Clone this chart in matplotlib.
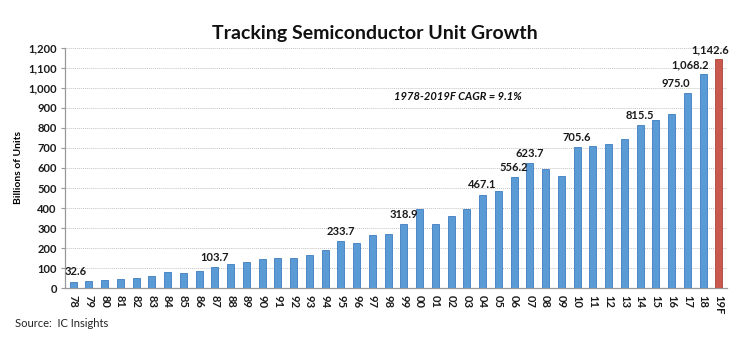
import matplotlib
matplotlib.use("Agg")
import matplotlib.pyplot as plt

plt.rcParams["font.family"] = ["Lato", "DejaVu Sans"]

# data (billions of units)
years = ["78", "79", "80", "81", "82", "83", "84", "85", "86", "87",
         "88", "89", "90", "91", "92", "93", "94", "95", "96", "97",
         "98", "99", "00", "01", "02", "03", "04", "05", "06", "07",
         "08", "09", "10", "11", "12", "13", "14", "15", "16", "17",
         "18", "19F"]
units = [32.6, 37, 42, 47, 48, 58, 80, 76, 87, 103.7,
         122, 132, 145, 150, 150, 166, 190, 233.7, 226, 265,
         270, 318.9, 395, 318, 358, 395, 467.1, 487, 556.2, 623.7,
         597, 562, 705.6, 712, 718, 745, 815.5, 842, 870, 975.0,
         1068.2, 1142.6]
labelled = {"78": 2, "87": 0, "95": 0, "99": 0, "04": 0, "06": 0, "07": 0,
            "10": 0, "14": 0, "17": -8, "18": -9, "19F": -6}

blue, blue_edge = "#5B9BD5", "#3F7CBF"
red, red_edge = "#C9584F", "#A8443D"

fig = plt.figure(figsize=(7.5, 3.5), dpi=100)
ax = fig.add_axes([0.087, 0.177, 0.882, 0.686])

x = range(len(years))
colors = [red if y.endswith("F") else blue for y in years]
edges = [red_edge if y.endswith("F") else blue_edge for y in years]
ax.bar(x, units, width=0.46, color=colors, edgecolor=edges, linewidth=0.6, zorder=3)

for i, (yr, v) in enumerate(zip(years, units)):
    if yr in labelled:
        ax.annotate(f"{v:,.1f}", (i, v), xytext=(labelled[yr], 3),
                    textcoords="offset points", ha="center", va="bottom",
                    fontsize=8, fontweight="bold", color="#1a1a1a")

ax.set_xlim(-0.5, len(years) - 0.5)
ax.set_ylim(0, 1200)
ax.set_yticks(range(0, 1201, 100))
ax.set_yticklabels([f"{t:,}" for t in range(0, 1201, 100)])
ax.set_xticks(list(x))
ax.set_xticklabels(years, rotation=270)

ax.yaxis.grid(True, color="#C4C4C4", linestyle=(0, (1, 1)), linewidth=0.7, zorder=0)
for s in ["top", "right"]:
    ax.spines[s].set_visible(False)
for s in ["left", "bottom"]:
    ax.spines[s].set_color("#999999")
    ax.spines[s].set_linewidth(0.9)
ax.tick_params(axis="y", length=3, color="#999999", labelsize=8, pad=3, labelcolor="#1a1a1a")
ax.tick_params(axis="x", length=0, labelsize=8, pad=5, labelcolor="#1a1a1a")
for lbl in ax.get_xticklabels() + ax.get_yticklabels():
    lbl.set_fontweight("bold")

ax.set_ylabel("Billions of Units", fontsize=7.5, fontweight="bold")
ax.yaxis.set_label_coords(-0.064, 0.5)

fig.text(0.5, 0.905, "Tracking Semiconductor Unit Growth", ha="center", va="center",
         fontsize=14, fontweight="bold", color="#111111")
fig.text(0.525, 0.723, "1978-2019F CAGR = 9.1%", ha="left", va="center",
         fontsize=8, fontweight="bold", fontstyle="italic", color="#111111")
fig.text(0.02, 0.077, "Source:  IC Insights", ha="left", va="center",
         fontsize=8, color="#222222")

fig.savefig("out.png", dpi=100)
